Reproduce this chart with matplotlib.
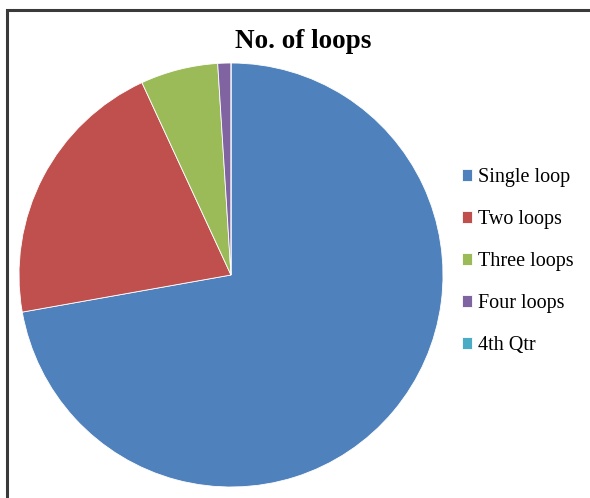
import matplotlib.pyplot as plt
from matplotlib.patches import Rectangle

# data (share of each slice, %)
labels = ["Single loop", "Two loops", "Three loops", "Four loops", "4th Qtr"]
values = [72.2, 20.9, 5.9, 1.0, 0.0]
colors = ["#4F81BD", "#C0504D", "#9BBB59", "#8064A2", "#4BACC6"]

W, H = 590, 498
fig = plt.figure(figsize=(W / 100, H / 100), dpi=100)

# outer chart border
fig.patches.append(Rectangle((7 / W, -0.05), 1.2, 1 - 10 / H + 0.05,
                             transform=fig.transFigure, fill=False,
                             edgecolor="#3a3a3a", linewidth=2.2))

# pie axes: centre (231, 275) px, radius 212 px
cx, cy, r = 231, 275, 212
ax = fig.add_axes([(cx - r) / W, (H - cy - r) / H, 2 * r / W, 2 * r / H])
wedges, _ = ax.pie(values, colors=colors, startangle=90, counterclock=False,
                   wedgeprops=dict(edgecolor="white", linewidth=0.6))
ax.set_xlim(-1, 1)
ax.set_ylim(-1, 1)
ax.set_aspect("equal")

fig.text(303 / W, 1 - 41 / H, "No. of loops", ha="center", va="center",
         fontsize=19.5, fontweight="bold", family="Liberation Serif")

leg = fig.legend(wedges, labels, loc="upper left",
                 bbox_to_anchor=(444 / W, 1 - 150 / H),
                 frameon=False, handlelength=0.5, handleheight=0.5,
                 handletextpad=0.3, labelspacing=1.14,
                 prop={"family": "Liberation Serif", "size": 14.5})

fig.savefig("out.png", dpi=100)
